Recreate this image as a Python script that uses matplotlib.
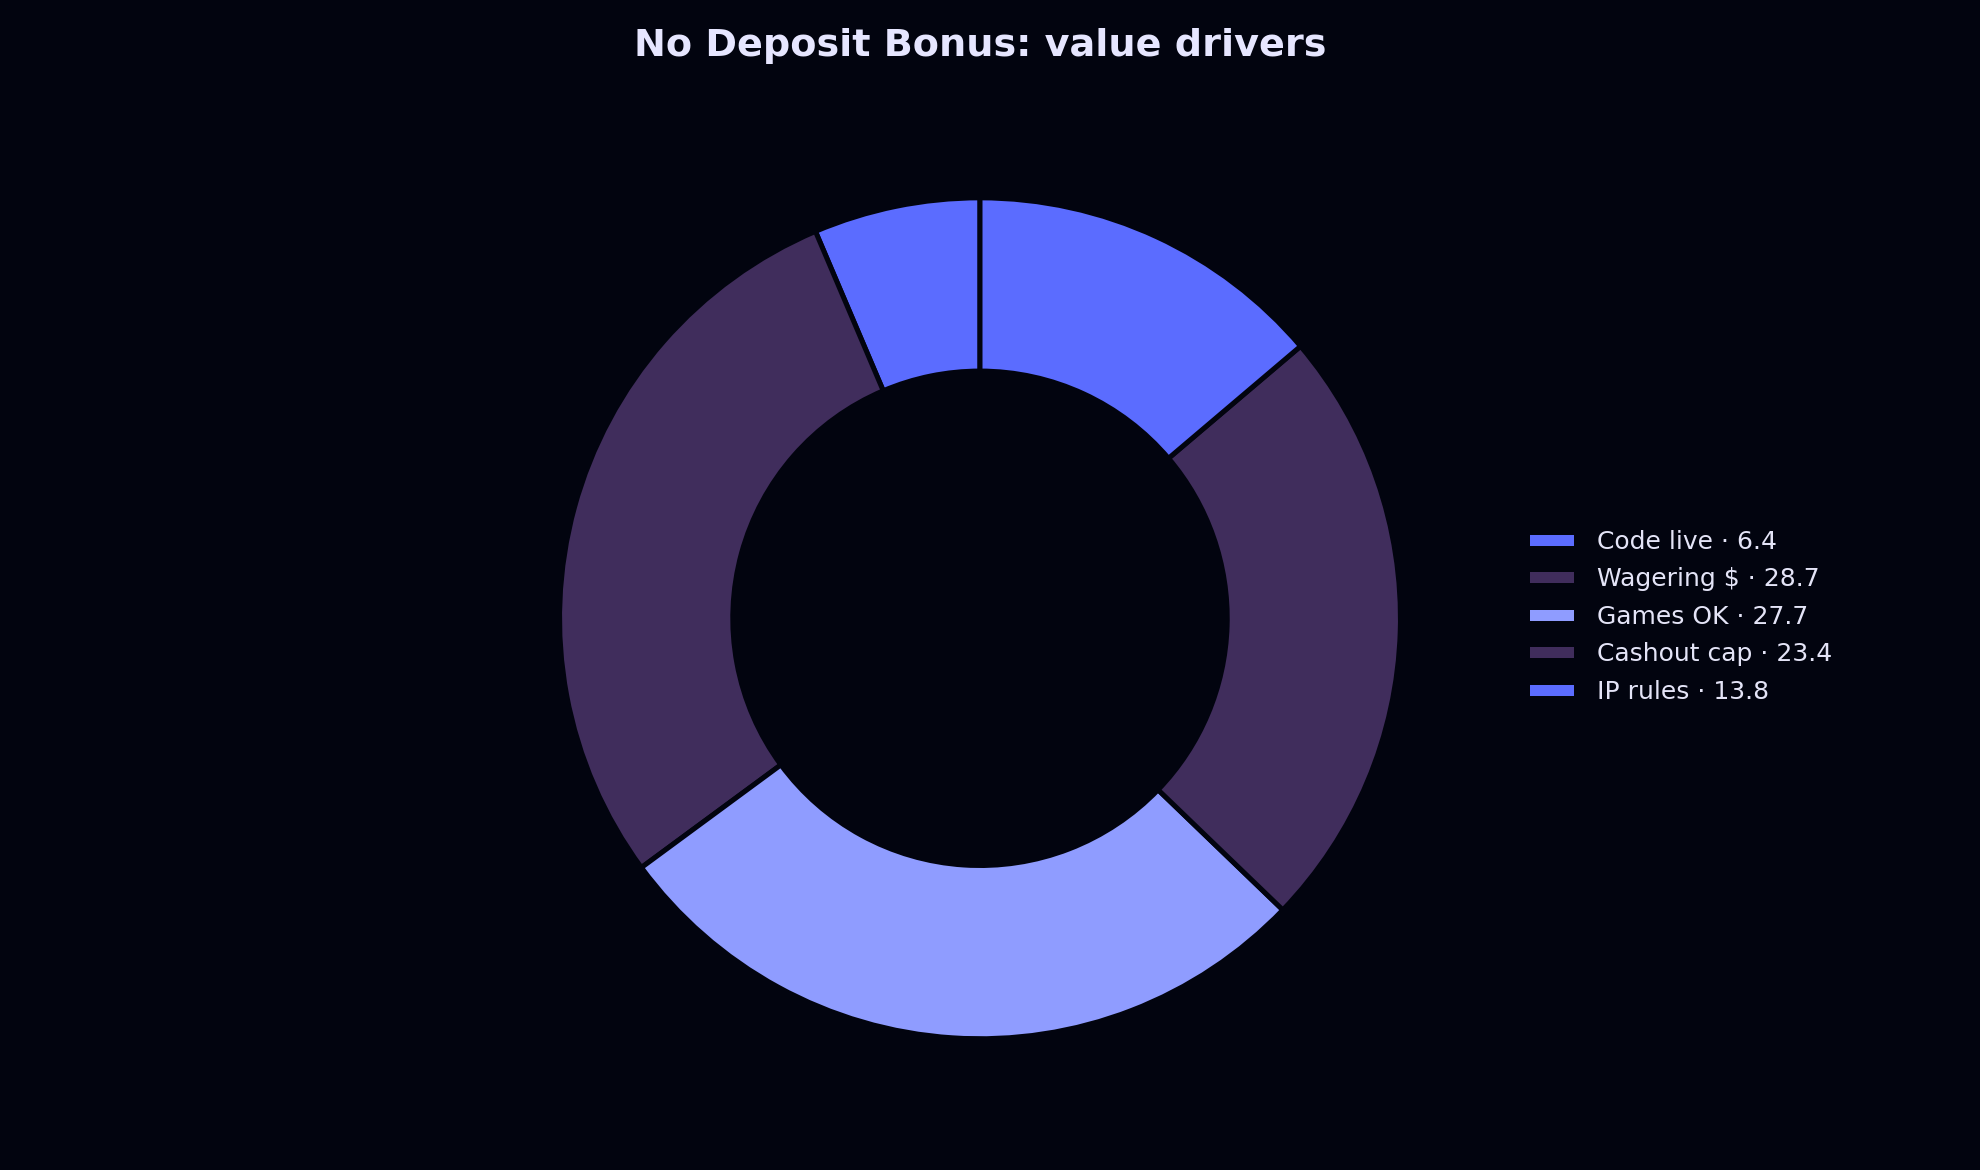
import matplotlib
matplotlib.use("Agg")
import matplotlib.pyplot as plt

# values
labels = ["Code live", "Wagering $", "Games OK", "Cashout cap", "IP rules"]
values = [6.4, 28.7, 27.7, 23.4, 13.8]
colors = ["#5b6cff", "#402d5c", "#8f9cff", "#402d5c", "#5b6cff"]

bg = "#02040f"
text_col = "#e4e4f7"

plt.rcParams['font.family'] = ['DejaVu Sans']

fig = plt.figure(figsize=(13.2, 7.8), dpi=150, facecolor=bg)
# square axes around the donut (radius ~420 px)
ax = fig.add_axes([0.2826, 0.1122, 0.4247, 0.7187])
ax.set_facecolor(bg)

wedges, _ = ax.pie(values, colors=colors, startangle=90, counterclock=True,
                   wedgeprops=dict(width=0.412, edgecolor=bg, linewidth=2.4))
ax.set_xlim(-1, 1)
ax.set_ylim(-1, 1)
ax.set_aspect('equal')

leg_labels = [f"{l} \u00b7 {v}" for l, v in zip(labels, values)]
leg = fig.legend(wedges, leg_labels, loc='center left',
                 bbox_to_anchor=(0.7663, 0.473), borderaxespad=0,
                 frameon=False, fontsize=12, handlelength=1.95,
                 handleheight=0.6, handletextpad=0.82, labelspacing=0.54,
                 labelcolor=text_col)

fig.text(0.495, 0.961, "No Deposit Bonus: value drivers", ha='center',
         va='center', fontsize=18.3, fontweight='bold', color="#e6e6ff")

fig.savefig("out.png", dpi=150, facecolor=bg)
